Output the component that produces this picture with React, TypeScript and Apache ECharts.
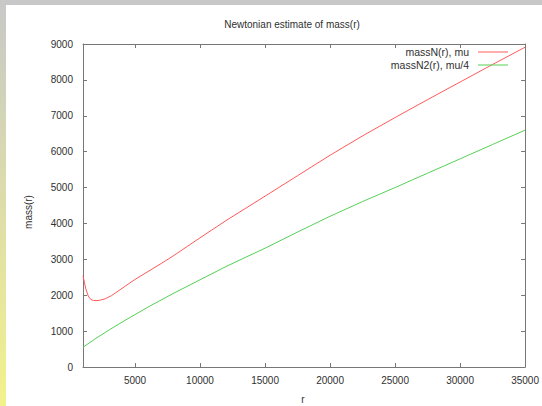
import React, { useEffect, useRef } from "react";
import * as echarts from "echarts";

const titleText = "Newtonian estimate of mass(r)";
const xName = "r";
const yName = "mass(r)";
const seriesNames = ["massN(r), mu", "massN2(r), mu/4"];

const rRed = [1000, 1200, 1400, 1600, 1800, 2000, 2300, 2700, 3200, 4000, 5000, 6000, 7000, 8000, 10000, 12000, 15000, 17500, 20000, 22500, 25000, 27500, 30000, 32500, 35000];
const massRed = [2540, 2200, 1980, 1880, 1855, 1850, 1860, 1900, 1990, 2190, 2440, 2660, 2880, 3110, 3600, 4080, 4760, 5330, 5900, 6440, 6950, 7450, 7940, 8430, 8910];

const rGreen = [1000, 2000, 3000, 4000, 5000, 6000, 8000, 10000, 12000, 15000, 17500, 20000, 22500, 25000, 27500, 30000, 32500, 35000];
const massGreen = [550, 800, 1030, 1250, 1460, 1670, 2060, 2430, 2800, 3310, 3760, 4200, 4610, 5000, 5400, 5800, 6200, 6600];

const xTicks = [5000, 10000, 15000, 20000, 25000, 30000, 35000];
const xMin = 1000;
const xMax = 35000;
const yMin = 0;
const yMax = 9000;
const yStep = 1000;

export default function App() {
  const ref = useRef<HTMLDivElement>(null);
  useEffect(() => {
    if (!ref.current) return;
    const chart = echarts.init(ref.current, null, { renderer: "svg" });
    const font = "Liberation Sans, Arial, sans-serif";
    const axisColor = "#777777";
    const textColor = "#303030";
    const plain = (v: number) => String(v);
    const xAxisCommon = {
      type: "value",
      min: xMin,
      max: xMax,
      splitLine: { show: false },
      axisLine: { show: true, onZero: false, lineStyle: { color: axisColor, width: 1 } },
      axisTick: { show: true, inside: true, length: 4, customValues: xTicks, lineStyle: { color: axisColor } },
    };
    const yAxisCommon = {
      type: "value",
      min: yMin,
      max: yMax,
      interval: yStep,
      splitLine: { show: false },
      axisLine: { show: true, onZero: false, lineStyle: { color: axisColor, width: 1 } },
      axisTick: { show: true, inside: true, length: 4, lineStyle: { color: axisColor } },
    };
    chart.setOption({
      animation: false,
      backgroundColor: "#ffffff",
      grid: { left: 83, right: 15, top: 44, bottom: 39, containLabel: false },
      legend: {
        orient: "vertical",
        right: 29,
        top: 41,
        align: "right",
        itemWidth: 30,
        itemHeight: 1,
        itemGap: 1,
        icon: "rect",
        textStyle: { fontFamily: font, fontSize: 10.5, color: textColor, padding: [0, 4, 0, 0], lineHeight: 12 },
        data: seriesNames,
      },
      xAxis: [
        {
          ...xAxisCommon,
          position: "bottom",
          axisLabel: { show: true, customValues: xTicks, formatter: plain, margin: 8, fontFamily: font, fontSize: 10, color: textColor },
        },
        {
          ...xAxisCommon,
          position: "top",
          axisLabel: { show: false },
        },
      ],
      yAxis: [
        {
          ...yAxisCommon,
          position: "left",
          axisLabel: { show: true, formatter: plain, margin: 10, fontFamily: font, fontSize: 10, color: textColor },
        },
        {
          ...yAxisCommon,
          position: "right",
          axisLabel: { show: false },
        },
      ],
      graphic: [
        { type: "rect", left: 0, top: 0, shape: { width: 542, height: 5 }, style: { fill: "#c8c8c8" }, z: 100 },
        {
          type: "rect",
          left: 0,
          top: 0,
          shape: { width: 6, height: 406 },
          style: {
            fill: new echarts.graphic.LinearGradient(0, 0, 0, 1, [
              { offset: 0, color: "#c8c8c8" },
              { offset: 1, color: "#f2f28c" },
            ]),
          },
          z: 100,
        },
        {
          type: "text",
          x: 292,
          y: 24,
          style: { text: titleText, textAlign: "center", textVerticalAlign: "middle", fontFamily: font, fontSize: 10, fill: textColor },
        },
        {
          type: "text",
          x: 303,
          y: 399,
          style: { text: xName, textAlign: "center", textVerticalAlign: "middle", fontFamily: font, fontSize: 10, fill: textColor },
        },
        {
          type: "text",
          x: 28,
          y: 212,
          rotation: Math.PI / 2,
          style: { text: yName, textAlign: "center", textVerticalAlign: "middle", fontFamily: font, fontSize: 10, fill: textColor },
        },
      ],
      series: [
        {
          name: seriesNames[0],
          type: "line",
          xAxisIndex: 0,
          yAxisIndex: 0,
          showSymbol: false,
          symbol: "none",
          smooth: false,
          color: "#ff5a5a",
          lineStyle: { color: "#ff5a5a", width: 1 },
          data: rRed.map((r, i) => [r, massRed[i]]),
          z: 3,
        },
        {
          name: seriesNames[1],
          type: "line",
          xAxisIndex: 0,
          yAxisIndex: 0,
          showSymbol: false,
          symbol: "none",
          smooth: false,
          color: "#55d055",
          lineStyle: { color: "#55d055", width: 1 },
          data: rGreen.map((r, i) => [r, massGreen[i]]),
          z: 2,
        },
      ],
    });
    return () => chart.dispose();
  }, []);
  return <div ref={ref} style={{ position: "absolute", left: 0, top: 0, width: 542, height: 406 }} />;
}
